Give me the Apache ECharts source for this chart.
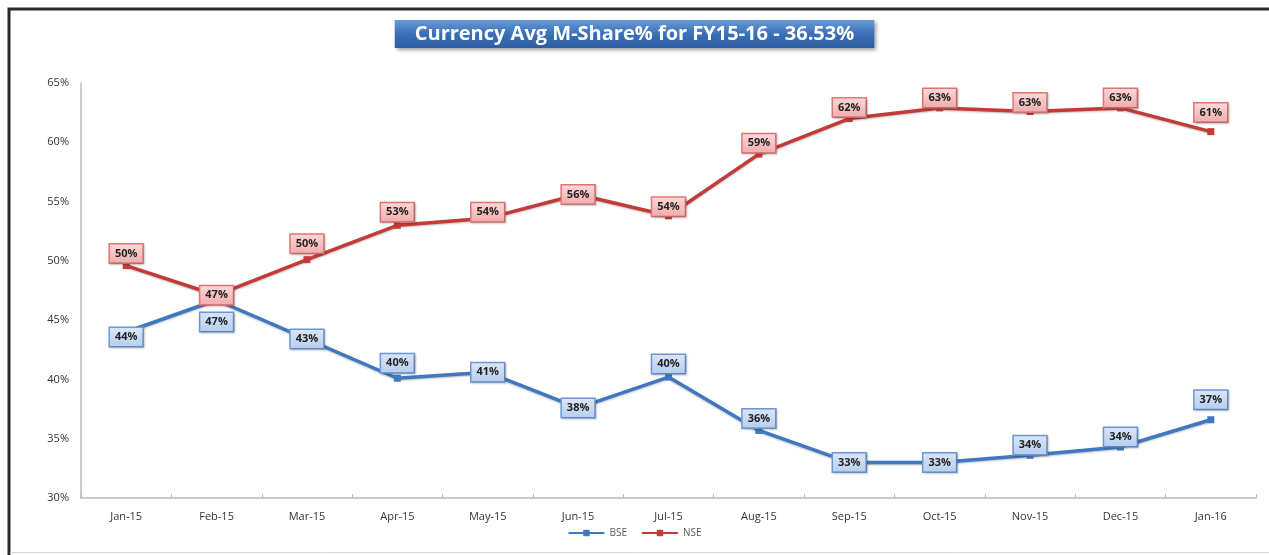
<!DOCTYPE html>
<html>
<head>
<meta charset="utf-8">
<script src="https://cdn.jsdelivr.net/npm/echarts@6/dist/echarts.min.js"></script>
<style>
html,body{margin:0;padding:0;background:#fff;}
#c{width:1269px;height:555px;}
</style>
</head>
<body>
<div id="c"></div>
<script>
const categories = ['Jan-15','Feb-15','Mar-15','Apr-15','May-15','Jun-15','Jul-15','Aug-15','Sep-15','Oct-15','Nov-15','Dec-15','Jan-16'];
const bseValues = [44.0, 46.7, 43.4, 40.1, 40.6, 37.6, 40.2, 35.7, 33.0, 33.0, 33.6, 34.3, 36.6];
const nseValues = [49.6, 47.1, 50.1, 53.0, 53.6, 55.6, 53.8, 59.0, 62.0, 62.9, 62.6, 62.9, 60.9];
const yTicks = [30, 35, 40, 45, 50, 55, 60, 65];
const titleText = 'Currency Avg M-Share% for FY15-16 - 36.53%';

// label vertical shifts (style only)
const bseLabelShift = [5, 22, 0, -15, 0, 0, -13, -12, 0, 0, -10, -10, -20];
const nseLabelShift = [-12, 0, -16, -13, -6, 0, -9, -11, -11, -10, -9, -10, -19];

function labelBox(fillTop, fillBottom, border){
  return {
    show: true,
    position: 'inside',
    formatter: p => Math.round(p.value) + '%',
    color: '#222',
    fontSize: 11,
    fontWeight: 'bold',
    fontFamily: 'Open Sans, DejaVu Sans, sans-serif',
    backgroundColor: {type:'linear',x:0,y:0,x2:0,y2:1,colorStops:[{offset:0,color:fillTop},{offset:1,color:fillBottom}]},
    borderColor: border,
    borderWidth: 1.5,
    padding: [4, 5, 3, 5],
    shadowColor: 'rgba(0,0,0,0.2)',
    shadowBlur: 2,
    shadowOffsetX: 1,
    shadowOffsetY: 1
  };
}

function mkData(vals, shifts){
  return vals.map((v,i)=>({value:v, label:{offset:[0, shifts[i]]}}));
}

const chart = echarts.init(document.getElementById('c'));
chart.setOption({
  backgroundColor: '#fff',
  animation: false,
  title: {
    text: titleText,
    left: 'center',
    top: 20,
    padding: [3, 20, 3, 20],
    backgroundColor: {type:'linear',x:0,y:0,x2:0,y2:1,colorStops:[{offset:0,color:'#6a9ad6'},{offset:0.5,color:'#3a70b8'},{offset:1,color:'#2c5d9f'}]},
    shadowColor: 'rgba(0,0,0,0.4)',
    shadowBlur: 4,
    shadowOffsetX: 2,
    shadowOffsetY: 2,
    textStyle: {color:'#fff', fontSize: 20, fontWeight:'bold', fontFamily:'Open Sans, DejaVu Sans, sans-serif', lineHeight: 22}
  },
  graphic: [
    {type:'rect', shape:{x:9, y:9, width:1290, height:600}, style:{fill:'none', stroke:'#2a2a2a', lineWidth:3}, silent:true, z:100},
    {type:'line', shape:{x1:10, y1:552.5, x2:1269, y2:552.5}, style:{stroke:'#d8d8d8', lineWidth:1}, silent:true, z:100}
  ],
  legend: {
    bottom: 12,
    left: 'center',
    itemWidth: 36,
    itemHeight: 8,
    itemGap: 14,
    textStyle: {color:'#555', fontSize:10, fontFamily:'Open Sans, DejaVu Sans, sans-serif'},
    data: ['BSE','NSE']
  },
  grid: {left: 81, right: 13, top: 83, bottom: 57},
  xAxis: {
    type: 'category',
    data: categories,
    boundaryGap: true,
    axisLine: {lineStyle:{color:'#bbb', width:1.5}},
    axisTick: {show:true, inside:true, length:4, lineStyle:{color:'#bbb'}},
    axisLabel: {color:'#333', fontSize:11, margin:13, fontFamily:'Open Sans, DejaVu Sans, sans-serif'}
  },
  yAxis: {
    type: 'value',
    min: yTicks[0],
    max: yTicks[yTicks.length-1],
    interval: 5,
    axisLine: {show:true, lineStyle:{color:'#bbb', width:1.5}},
    axisTick: {show:false},
    splitLine: {show:false},
    axisLabel: {color:'#333', fontSize:11, margin:12, formatter: v => v + '%', fontFamily:'Open Sans, DejaVu Sans, sans-serif'}
  },
  series: [
    {
      name: 'BSE',
      type: 'line',
      data: mkData(bseValues, bseLabelShift),
      symbol: 'rect',
      symbolSize: 7,
      itemStyle: {color:'#3f78c0'},
      lineStyle: {color:'#3f78c0', width:3.5, shadowColor:'rgba(0,0,0,0.25)', shadowBlur:2, shadowOffsetY:1},
      label: labelBox('#dbe7f7','#b5cdee','#6d9ad6'),
      z: 2
    },
    {
      name: 'NSE',
      type: 'line',
      data: mkData(nseValues, nseLabelShift),
      symbol: 'rect',
      symbolSize: 7,
      itemStyle: {color:'#c33b38'},
      lineStyle: {color:'#c33b38', width:3.5, shadowColor:'rgba(0,0,0,0.25)', shadowBlur:2, shadowOffsetY:1},
      label: labelBox('#fbdada','#f2aaaa','#e07878'),
      z: 3
    }
  ]
});
</script>
</body>
</html>
